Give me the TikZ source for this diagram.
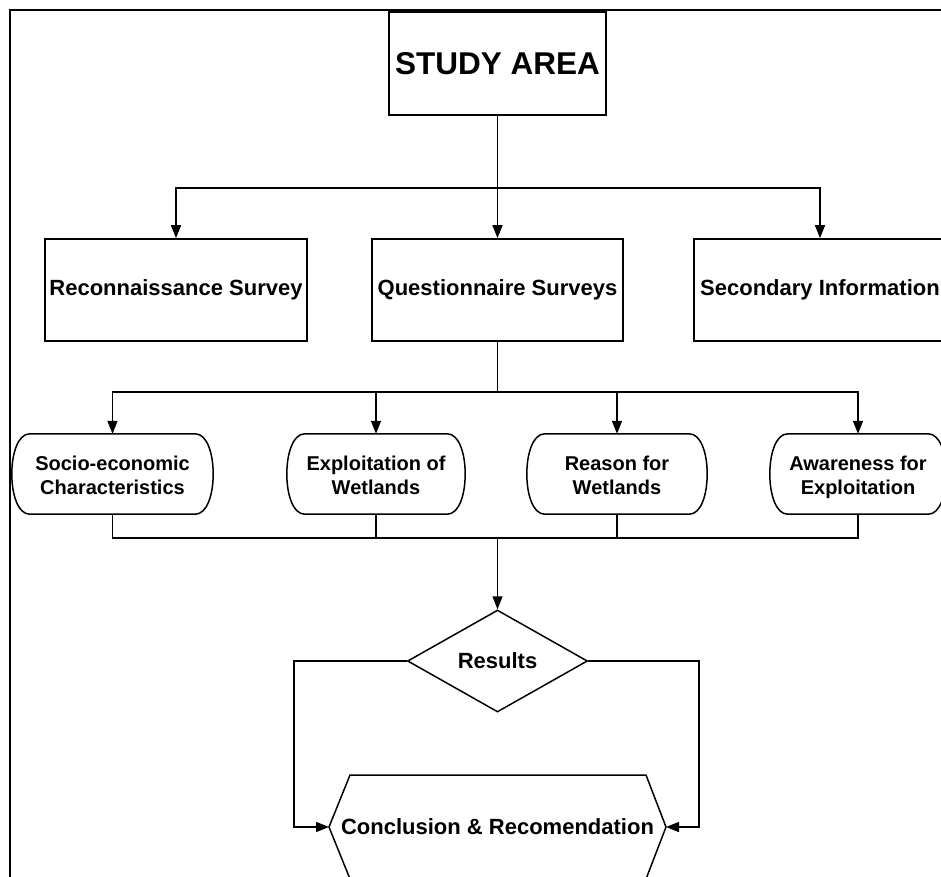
\documentclass[tikz,border=0pt]{standalone}
\usepackage{fontspec}
\setmainfont{Liberation Sans}
\usetikzlibrary{arrows.meta,shapes.geometric,calc}
\newcommand{\toprule}{\rule{0pt}{25pt}}
\tikzset{
  boxnode/.style={draw, line width=1.7pt, rectangle, inner sep=0pt, align=center,
    font=\fontsize{22}{25}\selectfont\bfseries},
  termnode/.style={draw=none, rectangle, inner sep=0pt, align=center, minimum height=80pt,
    font=\fontsize{20}{24}\selectfont\bfseries},
  termline/.style={line width=1.5pt},
  decnode/.style={draw, diamond, line width=1.5pt, inner sep=0pt, aspect=1.76,
    minimum width=180pt, minimum height=102pt, font=\fontsize{22}{25}\selectfont\bfseries},
  conn/.style={line width=1.5pt},
  arr/.style={conn, -{Triangle[length=13pt,width=10pt]}},
  framel/.style={line width=2.8pt}
}
\begin{document}
\begin{tikzpicture}[x=1pt,y=-1pt]
\useasboundingbox (0,0) rectangle (941,876);
\clip (0,0) rectangle (941,876);
\fill[white] (0,0) rectangle (941,876);
% frame
\draw[framel] (10,877) -- (10,10) -- (942,10);
% top
\node[boxnode, minimum width=217pt, minimum height=103pt, font=\fontsize{31.5}{36}\selectfont\bfseries] (study) at (497.5,63.5) {STUDY AREA};
% second row
\node[boxnode, minimum width=262pt, minimum height=102pt] (recon) at (176,290) {Reconnaissance Survey};
\node[boxnode, minimum width=251pt, minimum height=102pt] (quest) at (497.5,290) {Questionnaire Surveys};
\node[boxnode, minimum width=252pt, minimum height=102pt] (second) at (820,290) {Secondary Information};
% third row
\node[termnode, minimum width=201pt] (socio) at (112.5,474) {\toprule Socio-economic\\\strut Characteristics};
\node[termnode, minimum width=178pt] (expl) at (376,474) {\toprule Exploitation of\\\strut Wetlands};
\node[termnode, minimum width=180pt] (reason) at (617,474) {\toprule Reason for\\\strut Wetlands};
\node[termnode, minimum width=176pt] (aware) at (858,474) {\toprule Awareness for\\\strut Exploitation};
\foreach \n in {socio,expl,reason,aware}{
  \draw[termline] ($(\n.north west)+(18,0)$) -- ($(\n.north east)+(-18,0)$)
     .. controls +(24,0) and +(24,0) .. ($(\n.south east)+(-18,0)$)
     -- ($(\n.south west)+(18,0)$)
     .. controls +(-24,0) and +(-24,0) .. cycle;
}
% decision
\node[decnode] (res) at (497.5,661) {Results};
% conclusion hexagon
\node[inner sep=0pt, font=\fontsize{22}{25}\selectfont\bfseries] (concl) at (497.5,827) {Conclusion \& Recomendation};
\coordinate (cL) at (329,827);
\coordinate (cR) at (666,827);
\draw[termline] (cL) -- (350,775) -- (646,775) -- (cR) -- (646,879) -- (350,879) -- cycle;
% connectors
\coordinate (b1) at (497.5,188);
\draw[conn] (study.south) -- (b1);
\draw[arr] (b1) -- (quest.north);
\draw[arr] (b1) -| (recon.north);
\draw[arr] (b1) -| (second.north);
\coordinate (b2) at (497.5,392);
\draw[conn] (quest.south) -- (b2);
\draw[arr] (b2) -| (socio.north);
\draw[arr] (b2) -| (expl.north);
\draw[arr] (b2) -| (reason.north);
\draw[arr] (b2) -| (aware.north);
\coordinate (b3) at (497.5,538);
\draw[conn] (socio.south) -- (socio.south |- b3) -- (aware.south |- b3) -- (aware.south);
\draw[conn] (expl.south) -- (expl.south |- b3);
\draw[conn] (reason.south) -- (reason.south |- b3);
\draw[arr] (b3) -- (res.north);
\coordinate (jl) at (294,740);
\coordinate (jr) at (699,740);
\draw[arr] (res.west) -| (jl) |- (cL);
\draw[arr] (res.east) -| (jr) |- (cR);
\end{tikzpicture}
\end{document}
